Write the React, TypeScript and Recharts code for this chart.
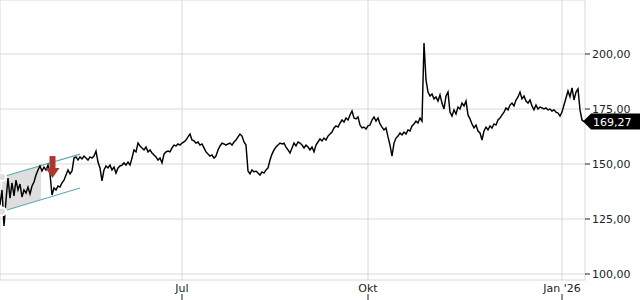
import React from 'react';
import {
  ComposedChart,
  Line,
  Area,
  XAxis,
  YAxis,
  CartesianGrid,
  ReferenceLine,
  ReferenceDot,
} from 'recharts';

// Schlusskurse, ein Wert pro Schritt (Apr 2025 bis Jan 2026)
const prices = [
  131.4, 138.2, 121.8, 133.6, 143.6, 134.5, 141.4, 135.5, 142.7, 138.2,
  140.9, 135.0, 138.2, 136.8, 139.5, 136.4, 140.0, 141.8, 145.0, 147.3,
  149.1, 146.8, 148.6, 147.3, 149.5, 145.5, 135.9, 139.1, 138.2, 140.0,
  139.5, 141.4, 142.7, 145.0, 147.3, 145.5, 146.8, 152.7, 153.2, 151.8,
  153.2, 152.3, 153.6, 152.7, 151.8, 153.2, 152.7, 153.6, 155.9, 150.9,
  148.2, 142.3, 147.3, 149.1, 148.2, 149.5, 147.3, 148.6, 145.9, 148.2,
  149.1, 149.5, 150.5, 149.5, 150.9, 149.5, 152.7, 156.4, 155.5, 159.5,
  158.2, 157.3, 156.4, 157.7, 155.5, 156.4, 155.0, 154.1, 153.2, 151.8,
  152.7, 150.5, 154.5, 155.5, 155.9, 155.5, 157.3, 158.6, 158.2, 159.1,
  158.6, 159.5, 160.0, 160.9, 162.3, 163.6, 160.9, 160.5, 159.5, 160.0,
  158.6, 159.1, 157.3, 155.5, 154.5, 153.6, 154.1, 152.7, 153.6, 156.4,
  158.2, 159.5, 159.1, 158.6, 159.1, 159.5, 158.6, 160.0, 160.9, 162.3,
  163.6, 162.7, 160.0, 158.6, 146.8, 145.5, 147.3, 146.4, 146.8, 145.9,
  145.0, 146.4, 145.9, 147.3, 148.2, 151.8, 154.5, 156.4, 157.7, 158.6,
  159.5, 159.1, 159.5, 157.7, 156.4, 155.0, 157.3, 159.5, 158.2, 160.0,
  159.5, 158.6, 157.3, 158.6, 157.7, 156.4, 157.7, 155.5, 158.6, 160.0,
  161.4, 160.5, 161.8, 160.9, 162.7, 163.6, 164.5, 166.4, 167.3, 166.8,
  168.6, 170.0, 169.1, 170.9, 170.0, 172.3, 174.1, 170.9, 170.5, 171.4,
  167.7, 166.4, 166.8, 165.9, 167.3, 167.7, 170.0, 171.4, 169.5, 170.9,
  168.2, 166.8, 165.5, 166.4, 162.3, 158.6, 153.6, 159.5, 161.8, 162.7,
  164.1, 163.2, 164.5, 163.6, 165.5, 165.0, 167.3, 168.2, 169.5, 168.6,
  170.9, 169.5, 205.0, 188.2, 182.7, 180.9, 181.8, 179.6, 180.5, 178.6,
  181.4, 177.7, 175.0, 180.9, 182.7, 173.6, 171.8, 174.6, 172.7, 175.9,
  175.0, 177.7, 176.4, 178.6, 172.3, 170.5, 168.2, 166.4, 167.7, 165.0,
  164.1, 160.9, 165.0, 166.8, 165.5, 167.3, 166.4, 168.2, 167.7, 170.0,
  170.9, 172.3, 173.6, 175.5, 174.6, 176.8, 177.7, 176.4, 179.1, 180.5,
  182.7, 179.6, 180.9, 178.6, 177.7, 179.1, 176.4, 174.6, 176.8, 175.0,
  175.9, 175.5, 175.0, 175.5, 174.6, 175.0, 174.1, 174.6, 173.6, 173.2,
  171.8, 173.6, 176.8, 180.0, 183.2, 180.5, 184.6, 179.1, 182.7, 184.1,
  174.6, 170.0, 169.27,
];

const monthTicks = [91, 184, 281];
const monthLabels = ['Jul', 'Okt', "Jan '26"];
const priceTicks = [100, 125, 150, 175, 200];

// Trendkanal (Start/Ende)
const channelX = [1, 40];
const channelUpper = [144.1, 154.5];
const lowerX = [3.5, 40];
const channelLower = [129.1, 139.1];
const shadeX = [1, 20.5];
const shadeUpper = [144.1, 149.3];
const shadeLower = [128.4, 133.8];

const signalX = 26.25;
const signalPrice = 153.6;

const font = '"DejaVu Sans", sans-serif';

const chartData = prices.map((price, i) => ({ i, price }));
const shadeData = shadeX.map((x, k) => ({ i: x, band: [shadeLower[k], shadeUpper[k]] }));
const lastIndex = prices.length - 1;
const lastPrice = prices[lastIndex];

const fmt = (v: number) => v.toFixed(2).replace('.', ',');

const MonthTick = (props: any) => {
  const { x, y, payload } = props;
  const idx = monthTicks.indexOf(payload.value);
  return (
    <g>
      <text x={x} y={y + 12} textAnchor="middle" fontSize={11} fontFamily={font} fill="#222">
        {monthLabels[idx]}
      </text>
      <line x1={x} x2={x} y1={y + 14} y2={y + 20} stroke="#222" />
    </g>
  );
};

const SignalArrow = (props: any) => {
  const { cx, cy } = props;
  return (
    <g>
      <rect x={cx - 3} y={cy} width={6} height={12} fill="#a8392f" />
      <polygon points={`${cx - 7},${cy + 12} ${cx + 7},${cy + 12} ${cx},${cy + 22}`} fill="#a8392f" />
    </g>
  );
};

const LastPriceTag = (props: any) => {
  const { cx, cy } = props;
  return (
    <g>
      <polygon
        points={`${cx - 1},${cy} ${cx + 7},${cy - 8} ${cx + 56},${cy - 8} ${cx + 56},${cy + 8} ${cx + 7},${cy + 8}`}
        fill="#000"
      />
      <text x={cx + 9} y={cy + 4} fontSize={11} fontFamily={font} fill="#fff">
        {fmt(lastPrice)}
      </text>
    </g>
  );
};

export default function App() {
  return (
    <div style={{ width: 640, height: 300 }}>
      <style>{'body{margin:0}'}</style>
      <ComposedChart width={640} height={300} data={chartData} margin={{ top: 0, right: 0, bottom: 0, left: 0 }}>
        <CartesianGrid stroke="#d8d8d8" />
        <XAxis
          dataKey="i"
          type="number"
          domain={[0, 292.5]}
          ticks={monthTicks}
          tick={<MonthTick />}
          tickLine={false}
          axisLine={false}
          tickSize={0}
          tickMargin={0}
          height={20}
          interval={0}
        />
        <YAxis
          orientation="right"
          type="number"
          domain={[97.27, 224.55]}
          ticks={priceTicks}
          tickFormatter={fmt}
          width={55}
          tickSize={5}
          axisLine={false}
          tickLine={{ stroke: '#222' }}
          tick={{ fontSize: 11, fill: '#222', fontFamily: font }}
          interval={0}
        />
        <Area
          data={shadeData}
          dataKey="band"
          type="linear"
          fill="#dedede"
          fillOpacity={1}
          stroke="none"
          isAnimationActive={false}
        />
        <ReferenceLine
          segment={[{ x: channelX[0], y: channelUpper[0] }, { x: channelX[1], y: channelUpper[1] }]}
          stroke="#63aab1"
          strokeWidth={1.2}
        />
        <ReferenceLine
          segment={[{ x: lowerX[0], y: channelLower[0] }, { x: lowerX[1], y: channelLower[1] }]}
          stroke="#63aab1"
          strokeWidth={1.2}
        />
        <Line
          dataKey="price"
          type="linear"
          stroke="#000"
          strokeWidth={1.45}
          dot={false}
          activeDot={false}
          isAnimationActive={false}
        />
        <ReferenceDot x={signalX} y={signalPrice} shape={<SignalArrow />} />
        <ReferenceDot x={lastIndex} y={lastPrice} shape={<LastPriceTag />} />
      </ComposedChart>
    </div>
  );
}
